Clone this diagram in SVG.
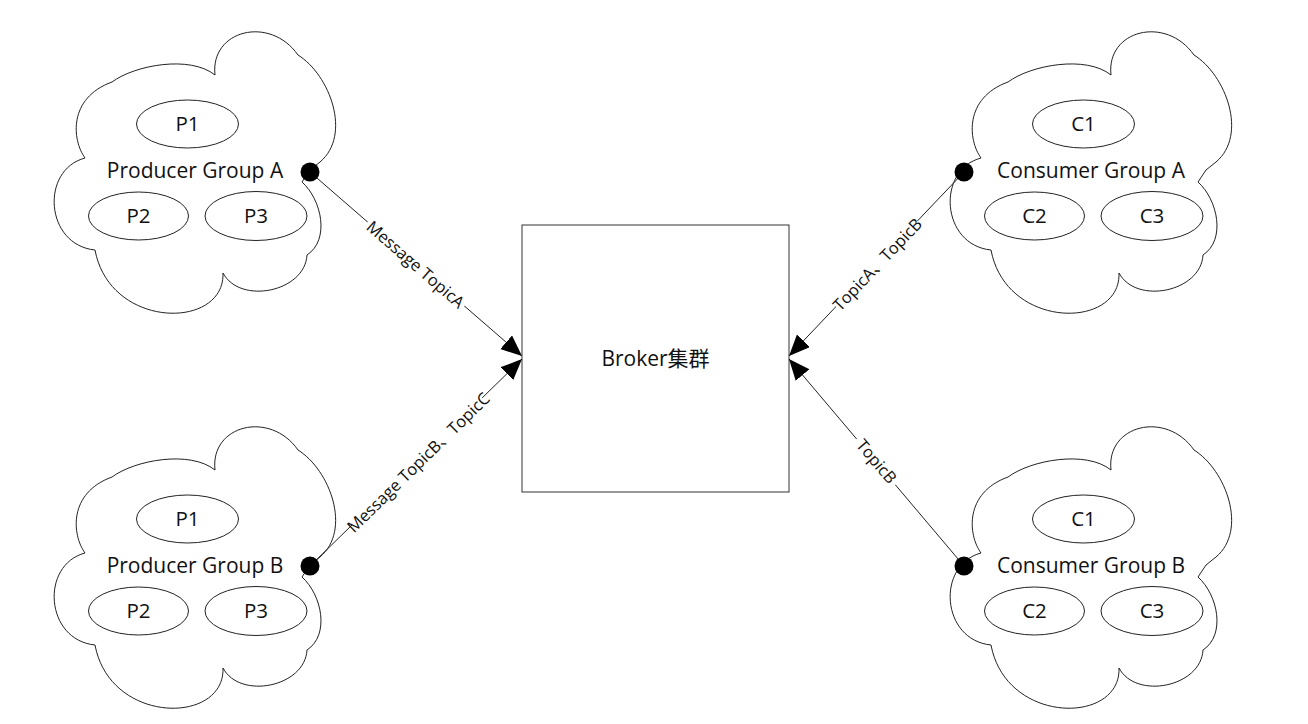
<svg xmlns="http://www.w3.org/2000/svg" width="1308" height="724" viewBox="0 0 1308 724">
<style>
  .ln { fill: none; stroke: #222; stroke-width: 1; }
  .cloud { fill: #fff; stroke: #222; stroke-width: 1; }
  .ell { fill: #fff; stroke: #222; stroke-width: 1; }
  .dot { fill: #000; }
  text { font-family: "Open Sans", "Noto Sans CJK SC", sans-serif; fill: #111; text-anchor: middle; }
  .grp { font-size: 21px; }
  .mem { font-size: 20.5px; }
  .lbl { font-size: 16.5px; dominant-baseline: central; }
  .bg { fill: #fff; }
</style>
<defs>
  <path id="cloudShape" class="cloud" d="M45,138 C32,120 28,78 72,62 C95,45 150,35 175,55 C170,10 230,-5 258,35 C290,55 312,115 280,142 L270,150 L262,162 C282,180 290,220 267,235 C265,272 200,285 183,253 C185,310 70,310 55,230 C5,225 0,150 45,138 Z"/>
  <marker id="arrow" markerUnits="userSpaceOnUse" markerWidth="24" markerHeight="20" refX="21" refY="9" orient="auto">
    <path d="M0,0 L21,9 L0,18 Z" fill="#000"/>
  </marker>
</defs>
<rect width="1308" height="724" fill="#fff"/>

<g id="producer-group-a" transform="translate(40,20)">
  <use href="#cloudShape"/>
  <g id="pa-p1"><ellipse class="ell" cx="147.5" cy="104" rx="51" ry="24"/><text class="mem" x="147.5" y="111">P1</text></g>
  <text class="grp" x="155" y="158">Producer Group A</text>
  <g id="pa-p2"><ellipse class="ell" cx="98.5" cy="196" rx="50" ry="24"/><text class="mem" x="98.5" y="203">P2</text></g>
  <g id="pa-p3"><ellipse class="ell" cx="216" cy="196" rx="51" ry="24.5"/><text class="mem" x="216" y="203">P3</text></g>
</g>

<g id="producer-group-b" transform="translate(40,415)">
  <use href="#cloudShape"/>
  <g id="pb-p1"><ellipse class="ell" cx="147.5" cy="104" rx="51" ry="24"/><text class="mem" x="147.5" y="111">P1</text></g>
  <text class="grp" x="155" y="158">Producer Group B</text>
  <g id="pb-p2"><ellipse class="ell" cx="98.5" cy="196" rx="50" ry="24"/><text class="mem" x="98.5" y="203">P2</text></g>
  <g id="pb-p3"><ellipse class="ell" cx="216" cy="196" rx="51" ry="24.5"/><text class="mem" x="216" y="203">P3</text></g>
</g>

<g id="consumer-group-a" transform="translate(936,20)">
  <use href="#cloudShape"/>
  <g id="ca-c1"><ellipse class="ell" cx="147.5" cy="104" rx="51" ry="24"/><text class="mem" x="147.5" y="111">C1</text></g>
  <text class="grp" x="155" y="158">Consumer Group A</text>
  <g id="ca-c2"><ellipse class="ell" cx="98.5" cy="196" rx="50" ry="24"/><text class="mem" x="98.5" y="203">C2</text></g>
  <g id="ca-c3"><ellipse class="ell" cx="216" cy="196" rx="51" ry="24.5"/><text class="mem" x="216" y="203">C3</text></g>
</g>

<g id="consumer-group-b" transform="translate(936,415)">
  <use href="#cloudShape"/>
  <g id="cb-c1"><ellipse class="ell" cx="147.5" cy="104" rx="51" ry="24"/><text class="mem" x="147.5" y="111">C1</text></g>
  <text class="grp" x="155" y="158">Consumer Group B</text>
  <g id="cb-c2"><ellipse class="ell" cx="98.5" cy="196" rx="50" ry="24"/><text class="mem" x="98.5" y="203">C2</text></g>
  <g id="cb-c3"><ellipse class="ell" cx="216" cy="196" rx="51" ry="24.5"/><text class="mem" x="216" y="203">C3</text></g>
</g>

<g id="broker">
  <rect x="522" y="225" width="267" height="267" fill="#fff" stroke="#333" stroke-width="1"/>
  <text x="655.5" y="366" style="font-size:21px">Broker集群</text>
</g>

<g id="connectors">
  <line class="ln" x1="310" y1="172" x2="522" y2="356" marker-end="url(#arrow)"/>
  <line class="ln" x1="310" y1="566" x2="522" y2="359" marker-end="url(#arrow)"/>
  <line class="ln" x1="964" y1="172" x2="789" y2="356" marker-end="url(#arrow)"/>
  <line class="ln" x1="964" y1="566" x2="789" y2="359" marker-end="url(#arrow)"/>
  <circle class="dot" cx="310" cy="172" r="9.5"/>
  <circle class="dot" cx="310" cy="566" r="9.5"/>
  <circle class="dot" cx="964" cy="172" r="9.5"/>
  <circle class="dot" cx="964" cy="566" r="9.5"/>
  <g transform="translate(416,264) rotate(40.95)">
    <rect class="bg" x="-64" y="-9" width="128" height="18"/>
    <text class="lbl" x="0" y="0">Message TopicA</text>
  </g>
  <g transform="translate(418,462) rotate(-44.3)">
    <rect class="bg" x="-91" y="-9" width="182" height="18"/>
    <text class="lbl" x="0" y="0">Message TopicB、TopicC</text>
  </g>
  <g transform="translate(877,264) rotate(-46.4)">
    <rect class="bg" x="-59" y="-9" width="118" height="18"/>
    <text class="lbl" x="0" y="0">TopicA、TopicB</text>
  </g>
  <g transform="translate(877,461) rotate(49.8)">
    <rect class="bg" x="-30" y="-9" width="60" height="18"/>
    <text class="lbl" x="0" y="0">TopicB</text>
  </g>
</g>
</svg>
